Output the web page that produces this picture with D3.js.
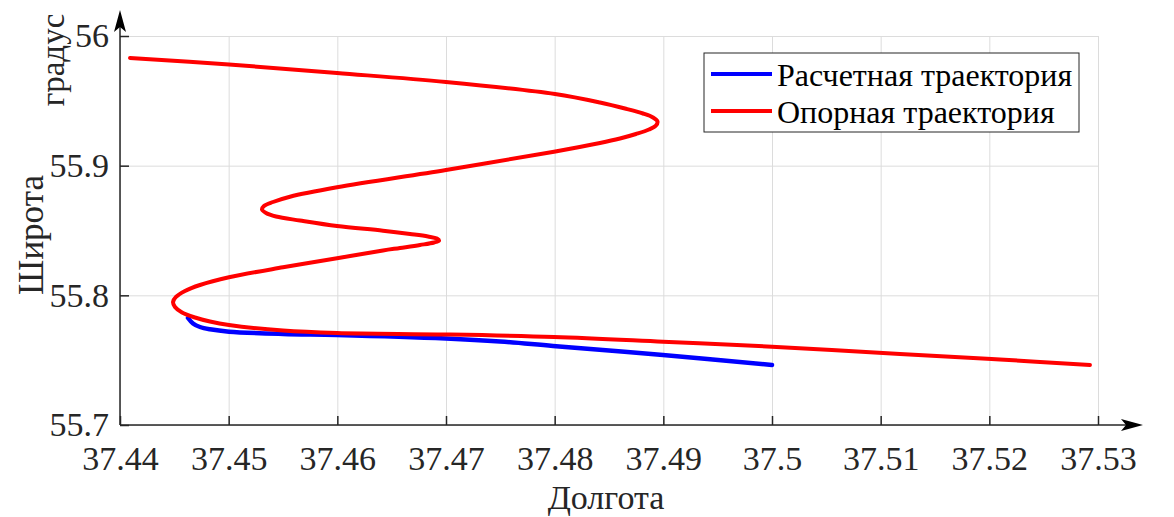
<!DOCTYPE html>
<html>
<head>
<meta charset="utf-8">
<script src="https://cdn.jsdelivr.net/npm/d3@7"></script>
<style>
  body { margin: 0; background: #fff; }
  svg { display: block; font-family: "Liberation Serif", "Times New Roman", serif; }
  .grid line { stroke: #dcdcdc; stroke-width: 1; }
  .grid path { display: none; }
  .axis path, .axis line { stroke: #262626; stroke-width: 1.5; }
  .axis text { fill: #262626; font-size: 34px; font-family: "Liberation Serif", serif; }
</style>
</head>
<body>
<svg width="1174" height="517"></svg>
<script>
// reference trajectory (Опорная траектория)
var refLon = [37.44092, 37.45003, 37.45997, 37.47000, 37.48003, 37.48417, 37.48647, 37.48813, 37.48905,
  37.48946, 37.48932, 37.48868, 37.48748, 37.48601, 37.48417, 37.47994, 37.47000, 37.45997, 37.45564,
  37.45408, 37.45325, 37.45307, 37.45344, 37.45436, 37.45656, 37.45997, 37.46420, 37.46669, 37.46834,
  37.46917, 37.46936, 37.46890, 37.46761, 37.46577, 37.46420, 37.45997, 37.45500, 37.45003, 37.44736,
  37.44598, 37.44515, 37.44488, 37.44506, 37.44571, 37.44690, 37.44828, 37.45003, 37.45500, 37.45997,
  37.47000, 37.47994, 37.48997, 37.50000, 37.51178, 37.52098, 37.52926];
var refLat = [55.98303, 55.97802, 55.97147, 55.96453, 55.95527, 55.94872, 55.94409, 55.94023, 55.93715,
  55.93406, 55.93098, 55.92789, 55.92442, 55.92095, 55.91748, 55.91077, 55.89666, 55.88332, 55.87607,
  55.87198, 55.86890, 55.86620, 55.86350, 55.86080, 55.85772, 55.85347, 55.84985, 55.84730, 55.84538,
  55.84383, 55.84229, 55.84075, 55.83882, 55.83651, 55.83458, 55.82856, 55.82162, 55.81391, 55.80797,
  55.80335, 55.79872, 55.79486, 55.79101, 55.78677, 55.78291, 55.77983, 55.77713, 55.77289, 55.77096,
  55.76980, 55.76787, 55.76425, 55.76039, 55.75476, 55.75052, 55.74628];

// computed trajectory (Расчетная траектория)
var calcLon = [37.44626, 37.44672, 37.44736, 37.44828, 37.45003, 37.45500, 37.45997, 37.47000, 37.47497,
  37.47985, 37.48997, 37.50000];
var calcLat = [55.78253, 55.77828, 55.77558, 55.77381, 55.77196, 55.77019, 55.76942, 55.76672, 55.76440,
  55.76093, 55.75399, 55.74628];

var xTicks = [37.44, 37.45, 37.46, 37.47, 37.48, 37.49, 37.5, 37.51, 37.52, 37.53];
var yTicks = [55.7, 55.8, 55.9, 56];
var seriesNames = ["Расчетная траектория", "Опорная траектория"];
var seriesColors = ["#0000ff", "#ff0000"];

var svg = d3.select("svg");
var mLeft = 120, mRight = 1098, mTop = 36, mBottom = 425;

var x = d3.scaleLinear().domain([37.44, 37.53]).range([mLeft, mRight]);
var y = d3.scaleLinear().domain([55.7, 56]).range([mBottom, mTop]);
var fmt = function(d) { return String(+d.toFixed(3)); };

// grid
svg.append("g").attr("class", "grid")
    .attr("transform", "translate(0," + mBottom + ")")
    .call(d3.axisBottom(x).tickValues(xTicks).tickSize(-(mBottom - mTop)).tickFormat(""));
svg.append("g").attr("class", "grid")
    .attr("transform", "translate(" + mLeft + ",0)")
    .call(d3.axisLeft(y).tickValues(yTicks).tickSize(-(mRight - mLeft)).tickFormat(""));

// lines
var line = d3.line()
    .x(function(d) { return x(d[0]); })
    .y(function(d) { return y(d[1]); })
    .curve(d3.curveCatmullRom.alpha(0.5));

var calcPts = calcLon.map(function(v, i) { return [v, calcLat[i]]; });
var refPts = refLon.map(function(v, i) { return [v, refLat[i]]; });

svg.append("path").datum(calcPts)
    .attr("d", line).attr("fill", "none")
    .attr("stroke", seriesColors[0]).attr("stroke-width", 4.5)
    .attr("stroke-linejoin", "round").attr("stroke-linecap", "round");
svg.append("path").datum(refPts)
    .attr("d", line).attr("fill", "none")
    .attr("stroke", seriesColors[1]).attr("stroke-width", 4)
    .attr("stroke-linejoin", "round").attr("stroke-linecap", "round");

// axes
var xAxis = svg.append("g").attr("class", "axis")
    .attr("transform", "translate(0," + mBottom + ")")
    .call(d3.axisBottom(x).tickValues(xTicks).tickSize(-9).tickPadding(21).tickFormat(fmt));
var yAxis = svg.append("g").attr("class", "axis")
    .attr("transform", "translate(" + mLeft + ",0)")
    .call(d3.axisLeft(y).tickValues(yTicks).tickSize(-9).tickPadding(11).tickFormat(fmt));
xAxis.select(".domain").remove();
yAxis.select(".domain").remove();

// axis lines with arrows
svg.append("line").attr("x1", mLeft).attr("y1", mBottom).attr("x2", 1128).attr("y2", mBottom)
    .attr("stroke", "#262626").attr("stroke-width", 1.5);
svg.append("line").attr("x1", mLeft).attr("y1", mBottom).attr("x2", mLeft).attr("y2", 26)
    .attr("stroke", "#262626").attr("stroke-width", 1.5);
svg.append("path")
    .attr("d", "M1143," + mBottom + "L1121," + (mBottom - 6) + "L1126," + mBottom + "L1121," + (mBottom + 6) + "Z")
    .attr("fill", "#000");
svg.append("path")
    .attr("d", "M" + mLeft + ",10L" + (mLeft - 6) + ",32L" + mLeft + ",27L" + (mLeft + 6) + ",32Z")
    .attr("fill", "#000");

// axis labels
svg.append("text").attr("x", 606).attr("y", 509)
    .attr("text-anchor", "middle").attr("font-size", 34).attr("fill", "#262626")
    .text("Долгота");
svg.append("text").attr("transform", "translate(43,235) rotate(-90)")
    .attr("text-anchor", "middle").attr("font-size", 35).attr("fill", "#262626")
    .text("Широта");
svg.append("text").attr("transform", "translate(64,60) rotate(-90)")
    .attr("text-anchor", "middle").attr("font-size", 33).attr("fill", "#262626")
    .text("градус");

// legend
var lg = svg.append("g");
lg.append("rect").attr("x", 704).attr("y", 53).attr("width", 375).attr("height", 79)
    .attr("fill", "#fff").attr("stroke", "#262626").attr("stroke-width", 1);
seriesNames.forEach(function(name, i) {
  var ly = 74 + i * 37;
  lg.append("line").attr("x1", 711).attr("x2", 772).attr("y1", ly).attr("y2", ly)
      .attr("stroke", seriesColors[i]).attr("stroke-width", 4);
  lg.append("text").attr("x", 777).attr("y", ly + 12)
      .attr("font-size", 32).attr("fill", "#000").text(name);
});
</script>
</body>
</html>
